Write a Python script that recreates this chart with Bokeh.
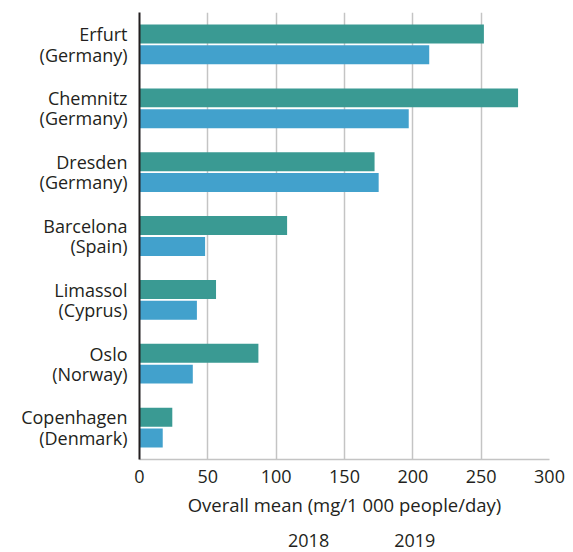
from bokeh.plotting import figure
from bokeh.layouts import column
from bokeh.models import FactorRange, Legend, LegendItem, ColumnDataSource, FixedTicker
from bokeh.transform import dodge
from bokeh.embed import file_html
from bokeh.resources import INLINE

cities = ["Erfurt\n(Germany)", "Chemnitz\n(Germany)", "Dresden\n(Germany)",
          "Barcelona\n(Spain)", "Limassol\n(Cyprus)", "Oslo\n(Norway)",
          "Copenhagen\n(Denmark)"]
v2018 = [212, 197, 175, 48, 42, 39, 17]
v2019 = [252, 277, 172, 108, 56, 87, 24]
xticks = [0, 50, 100, 150, 200, 250, 300]
years = ["2018", "2019"]

FONT = "Open Sans"
FS = "18px"
TXT = "#231f20"
BLUE = "#42a1cc"
TEAL = "#3a9a93"

src = ColumnDataSource(dict(city=cities, v2018=v2018, v2019=v2019))

p = figure(frame_width=410, frame_height=447, output_backend="svg", toolbar_location=None,
           y_range=FactorRange(factors=list(reversed(cities))),
           x_range=(0, 300),
           min_border_left=139, min_border_right=24, min_border_top=12, min_border_bottom=63)
p.outline_line_color = None

r19 = p.hbar(y=dodge("city", 0.163, range=p.y_range), right="v2019", left=0, height=0.297,
             source=src, color=TEAL, line_color=None)
r18 = p.hbar(y=dodge("city", -0.163, range=p.y_range), right="v2018", left=0, height=0.297,
             source=src, color=BLUE, line_color=None)

p.xaxis.ticker = FixedTicker(ticks=xticks)
p.xgrid.ticker = FixedTicker(ticks=xticks)
p.xgrid.grid_line_color = "#c4c4c4"
p.xgrid.grid_line_width = 1.5
p.ygrid.grid_line_color = None

p.xaxis.axis_label = "Overall mean (mg/1 000 people/day)"
p.xaxis.axis_line_color = "#c4c4c4"
p.xaxis.axis_line_width = 1.5
p.xaxis.major_tick_line_color = None
p.xaxis.minor_tick_line_color = None
p.xaxis.major_label_standoff = 4
p.xaxis.axis_label_standoff = 6
p.xaxis.major_label_text_font = FONT
p.xaxis.major_label_text_font_size = FS
p.xaxis.major_label_text_color = TXT
p.xaxis.axis_label_text_font = FONT
p.xaxis.axis_label_text_font_size = "18.5px"
p.xaxis.axis_label_text_font_style = "normal"
p.xaxis.axis_label_text_color = TXT

p.yaxis.axis_line_color = "#231f20"
p.yaxis.axis_line_width = 2
p.yaxis.major_tick_line_color = None
p.yaxis.minor_tick_line_color = None
p.yaxis.major_label_standoff = 6
p.yaxis.major_label_text_font = FONT
p.yaxis.major_label_text_font_size = FS
p.yaxis.major_label_text_color = TXT
p.yaxis.major_label_text_align = "right"
p.yaxis.major_label_text_line_height = 0.85

# legend strip below the chart (its frame is aligned with the chart frame)
lg = figure(width=573, height=30, output_backend="svg", toolbar_location=None,
            x_axis_type=None, y_axis_type=None, x_range=(0, 1), y_range=(0, 1),
            min_border=0)
lg.outline_line_color = None
lg.grid.visible = False
empty = ColumnDataSource(dict(y=[], r=[]))
l18 = lg.hbar(y="y", right="r", left=0, height=0.3, source=empty, color=BLUE, line_color=None)
l19 = lg.hbar(y="y", right="r", left=0, height=0.3, source=empty, color=TEAL, line_color=None)

legend = Legend(items=[LegendItem(label=years[0], renderers=[l18]),
                       LegendItem(label=years[1], renderers=[l19])],
                orientation="horizontal", location=(119, 0),
                glyph_width=22, glyph_height=22, label_standoff=8, spacing=35,
                label_text_font=FONT, label_text_font_size="18px", label_text_color=TXT,
                border_line_color=None, background_fill_alpha=0, padding=0, margin=0)
lg.add_layout(legend, "center")

layout = column(p, lg, spacing=0)
open("out.html", "w").write(file_html(layout, INLINE))
